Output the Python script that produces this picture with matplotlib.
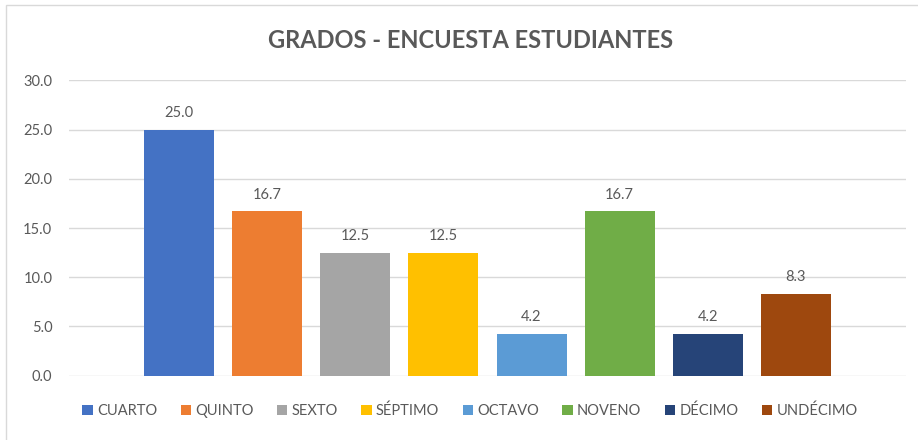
import matplotlib
matplotlib.use("Agg")
import matplotlib.pyplot as plt
from matplotlib.patches import Rectangle, Patch

categories = ["CUARTO", "QUINTO", "SEXTO", "SÉPTIMO", "OCTAVO", "NOVENO", "DÉCIMO", "UNDÉCIMO"]
values = [25.0, 16.7, 12.5, 12.5, 4.2, 16.7, 4.2, 8.3]
colors = ["#4472C4", "#ED7D31", "#A5A5A5", "#FFC000", "#5B9BD5", "#70AD47", "#264478", "#9E480E"]
yticks = [0, 5, 10, 15, 20, 25, 30]
title = "GRADOS - ENCUESTA ESTUDIANTES"

plt.rcParams['font.family'] = ['Lato', 'DejaVu Sans']
txt = "#595959"

fig = plt.figure(figsize=(9.18, 4.4), dpi=100)
W, H = 918, 440
ax = fig.add_axes([69 / W, (H - 375.5) / H, (906 - 69) / W, (375.5 - 80.5) / H])

xs = list(range(len(categories)))
for x, v, c, lab in zip(xs, values, colors, categories):
    ax.bar(x, v, width=0.794, color=c, label=lab, zorder=3)
    ax.annotate(f"{v:.1f}", (x, v), xytext=(0, 7), textcoords="offset points",
                ha="center", va="bottom", fontsize=10.5, color=txt)

ax.set_xlim(-1.25, 8.25)
ax.set_ylim(0, 30)
ax.set_yticks(yticks)
ax.set_yticklabels([f"{t:.1f}" for t in yticks], fontsize=10.5, color=txt)
ax.set_xticks([])
ax.tick_params(axis="y", length=0, pad=12)
ax.grid(axis="y", color="#D9D9D9", linewidth=1.0, zorder=0)
for s in ax.spines.values():
    s.set_visible(False)

fig.text(471 / W, (H - 41) / H, title, ha="center", va="center",
         fontsize=17, fontweight="bold", color=txt)

handles = [Patch(facecolor=c, edgecolor="none") for c in colors]
fig.legend(handles, categories, loc="center", bbox_to_anchor=(470 / W, (H - 411) / H),
           ncol=len(categories), frameon=False, fontsize=10.5, handlelength=0.7,
           handleheight=0.7, handletextpad=0.3, columnspacing=1.6, labelcolor=txt)

fig.patches.append(Rectangle((6 / W, -0.1), 1.2, (H - 5) / H + 0.1, transform=fig.transFigure,
                             fill=False, edgecolor="#D9D9D9", linewidth=1.0))

fig.savefig("out.png", dpi=100)
